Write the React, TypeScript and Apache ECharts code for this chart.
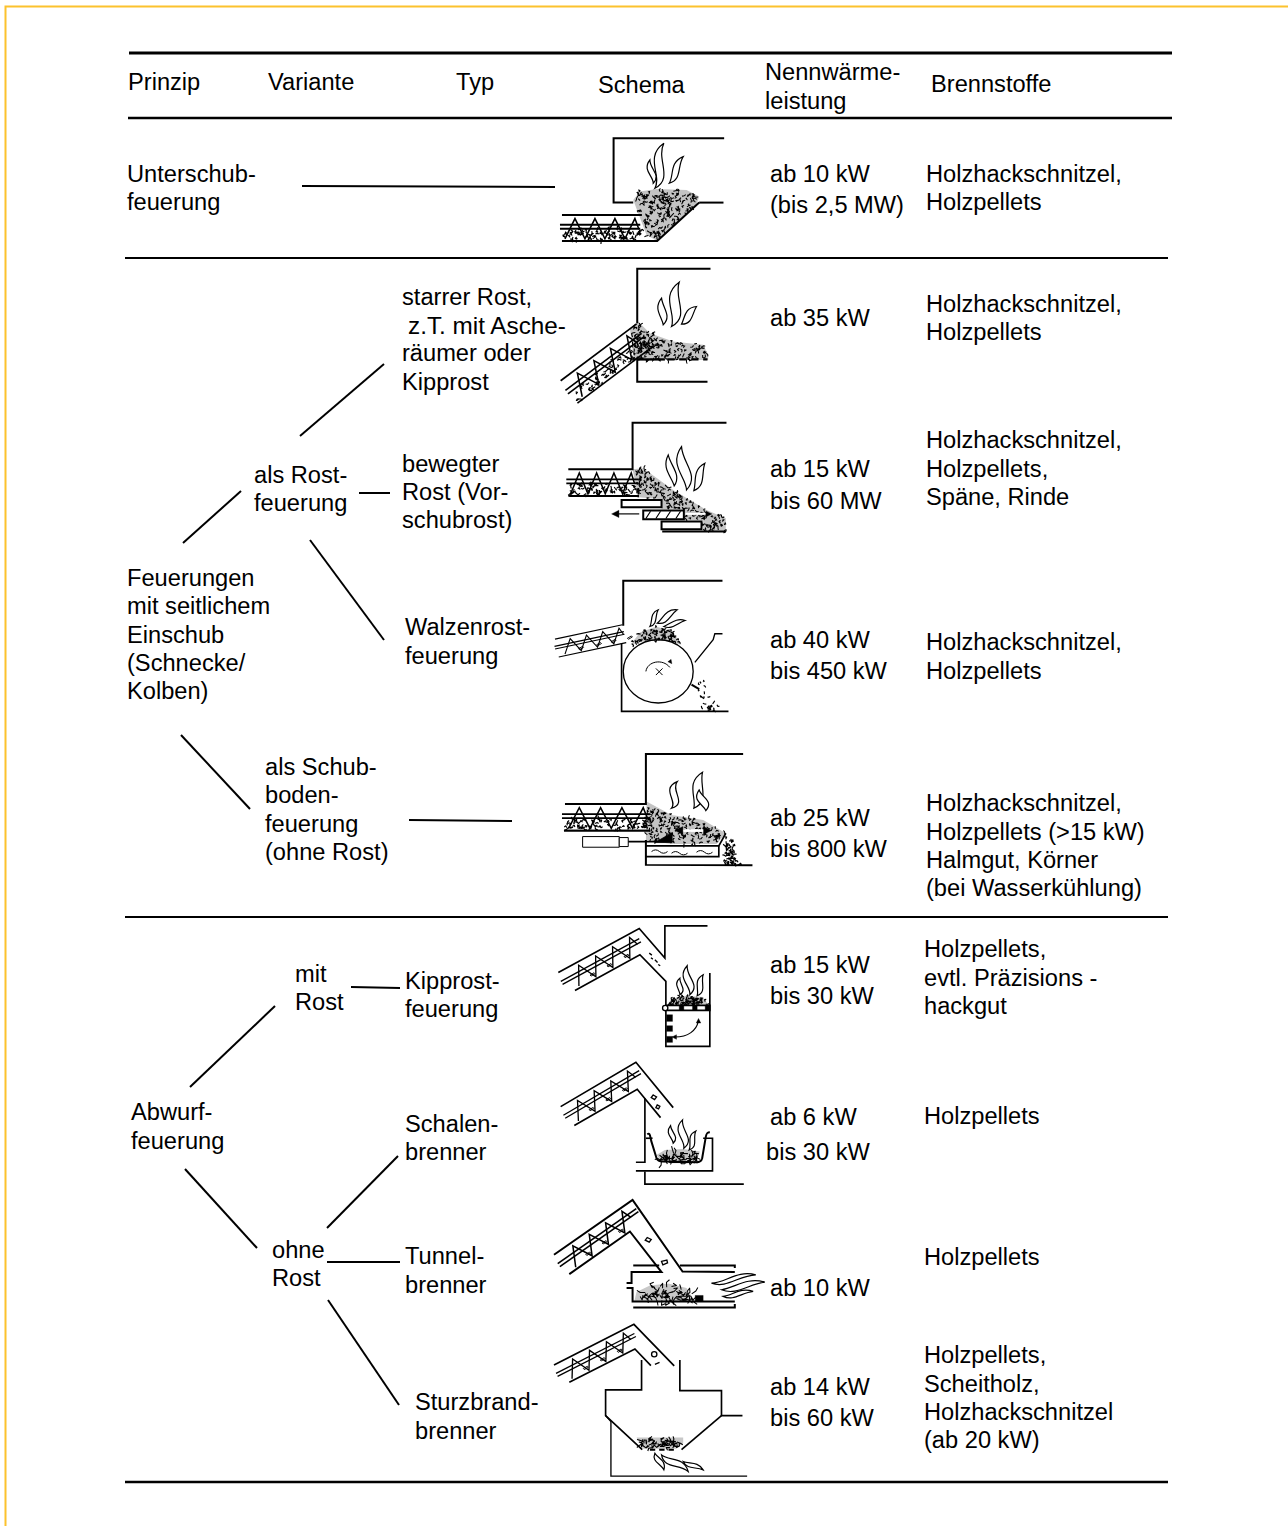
import React, { useEffect, useRef } from "react";
import * as echarts from "echarts";

// ---------- text content ----------
const headers = ["Prinzip", "Variante", "Typ", "Schema", "Nennwärme-", "leistung", "Brennstoffe"];
const prinzip = ["Unterschub-", "feuerung", "Feuerungen", "mit seitlichem", "Einschub", "(Schnecke/", "Kolben)", "Abwurf-", "feuerung"];
const variante = ["als Rost-", "feuerung", "als Schub-", "boden-", "feuerung", "(ohne Rost)", "mit", "Rost", "ohne", "Rost"];
const typ = ["starrer Rost,", "z.T. mit Asche-", "räumer oder", "Kipprost", "bewegter", "Rost (Vor-", "schubrost)", "Walzenrost-", "feuerung", "Kipprost-", "feuerung", "Schalen-", "brenner", "Tunnel-", "brenner", "Sturzbrand-", "brenner"];
const leistung = ["ab 10 kW", "(bis 2,5 MW)", "ab 35 kW", "ab 15 kW", "bis 60 MW", "ab 40 kW", "bis 450 kW", "ab 25 kW", "bis 800 kW", "ab 15 kW", "bis 30 kW", "ab 6 kW", "bis 30 kW", "ab 10 kW", "ab 14 kW", "bis 60 kW"];
const brennstoffe = ["Holzhackschnitzel,", "Holzpellets", "Holzhackschnitzel,", "Holzpellets", "Holzhackschnitzel,", "Holzpellets,", "Späne, Rinde", "Holzhackschnitzel,", "Holzpellets", "Holzhackschnitzel,", "Holzpellets (>15 kW)", "Halmgut, Körner", "(bei Wasserkühlung)", "Holzpellets,", "evtl. Präzisions -", "hackgut", "Holzpellets", "Holzpellets", "Holzpellets,", "Scheitholz,", "Holzhackschnitzel", "(ab 20 kW)"];

// ---------- layout (x, middle y) parallel to the text lists ----------
const headerPos = [[128, 82], [268, 82], [456, 82], [598, 85], [765, 72], [765, 101], [931, 84]];
const prinzipPos = [[127, 174], [127, 202], [127, 578], [127, 606], [127, 635], [127, 663], [127, 691], [131, 1112], [131, 1141]];
const variantePos = [[254, 475], [254, 503], [265, 767], [265, 795], [265, 824], [265, 852], [295, 974], [295, 1002], [272, 1250], [272, 1278]];
const typPos = [[402, 297], [408, 325], [402, 353], [402, 382], [402, 464], [402, 492], [402, 520], [405, 627], [405, 656], [405, 981], [405, 1009], [405, 1124], [405, 1152], [405, 1256], [405, 1285], [415, 1402], [415, 1431]];
const leistungPos = [[770, 174], [770, 205], [770, 318], [770, 469], [770, 501], [770, 640], [770, 671], [770, 818], [770, 849], [770, 965], [770, 996], [770, 1117], [766, 1152], [770, 1288], [770, 1387], [770, 1418]];
const brennstoffePos = [[926, 174], [926, 202], [926, 304], [926, 332], [926, 440], [926, 469], [926, 497], [926, 642], [926, 671], [926, 803], [926, 832], [926, 860], [926, 888], [924, 949], [924, 978], [924, 1006], [924, 1116], [924, 1257], [924, 1355], [924, 1384], [924, 1412], [924, 1440]];

// [x1, y1, x2, y2, width]
const rules = [[129, 53, 1172, 53, 3], [128, 118, 1172, 118, 2.6], [125, 258, 1168, 258, 2], [125, 917, 1168, 917, 2], [125, 1482, 1168, 1482, 2.6]];
const connectors = [[302, 186, 555, 187], [300, 436, 384, 364], [183, 543, 241, 491], [359, 493, 390, 493], [310, 540, 384, 640], [181, 735, 250, 809], [409, 820, 512, 821], [190, 1087, 275, 1006], [351, 987, 400, 988], [185, 1169, 257, 1248], [327, 1228, 398, 1156], [327, 1262, 400, 1262], [328, 1300, 399, 1405]];

// ---------- drawing helpers (all sketch coordinates are at 3x inside a scaled group) ----------
let shapeNo = 0;
function P(d: string, style: any = {}) {
  const name = "sk" + shapeNo++;
  echarts.graphic.registerShape(name, echarts.graphic.extendPath(d, {}));
  return { type: name, silent: true, style: { fill: "none", stroke: "#000", lineWidth: 6, lineJoin: "miter", ...style } };
}
const L = (pts: number[][]) => "M" + pts.map((p) => p.join(" ")).join("L");
const poly = (pts: number[][], style: any = {}) => P(L(pts), style);
const closed = (pts: number[][], style: any = {}) => P(L(pts) + "Z", style);

function inside(x: number, y: number, pts: number[][]) {
  let c = false;
  for (let i = 0, j = pts.length - 1; i < pts.length; j = i++) {
    const [xi, yi] = pts[i], [xj, yj] = pts[j];
    if (yi > y !== yj > y && x < ((xj - xi) * (y - yi)) / (yj - yi) + xi) c = !c;
  }
  return c;
}
// deterministic decorative grain for fuel heaps
function grain(pts: number[][], count0: number, seed: number, size = 7, lw0 = 2.6, color = "#000") {
  const count = Math.round(count0 * 1.5), lw = lw0 + 0.5;
  const xs = pts.map((p) => p[0]), ys = pts.map((p) => p[1]);
  const x0 = Math.min(...xs), x1 = Math.max(...xs), y0 = Math.min(...ys), y1 = Math.max(...ys);
  let s = seed * 7919 + 17;
  const r = () => ((s = (s * 16807) % 2147483647) / 2147483647);
  let d = "";
  let n = 0, guard = 0;
  while (n < count && guard++ < count * 30) {
    const x = x0 + r() * (x1 - x0), y = y0 + r() * (y1 - y0), a = r() * 6.28, b = r() * 6.28;
    if (!inside(x, y, pts)) continue;
    d += `M${x.toFixed(1)} ${y.toFixed(1)}l${(Math.cos(a) * size).toFixed(1)} ${(Math.sin(a) * size).toFixed(1)}l${(Math.cos(b) * size * 0.8).toFixed(1)} ${(Math.sin(b) * size * 0.8).toFixed(1)}`;
    n++;
  }
  return P(d, { lineWidth: lw, stroke: color, lineJoin: "round" });
}
function heap(pts: number[][], count: number, seed: number, size = 7, lw = 2.6) {
  return [closed(pts, { fill: "#c4c4c4", stroke: "none" }), grain(pts, count, seed, size, lw)];
}
function flame(bx: number, by: number, tx: number, ty: number, amp0: number, w0: number, lw = 3.6) {
  const amp = amp0 * 1.35, w = w0 * 1.5;
  const vx = tx - bx, vy = ty - by, l = Math.hypot(vx, vy) || 1, nx = -vy / l, ny = vx / l;
  const pt = (t: number, o: number) => `${(bx + vx * t + nx * o).toFixed(1)} ${(by + vy * t + ny * o).toFixed(1)}`;
  const d = `M${pt(0, 0)}C${pt(0.3, amp + w)} ${pt(0.62, -amp + w)} ${pt(1, 0)}C${pt(0.62, -amp - w)} ${pt(0.3, amp - w)} ${pt(0, 0)}Z`;
  return P(d, { fill: "#fff", lineWidth: lw });
}
function auger(ox: number, oy: number, deg: number, len: number, w: number, start: number, period: number, cfg: any = {}) {
  const a = (deg * Math.PI) / 180, c = Math.cos(a), s = Math.sin(a);
  const R = (u: number, v: number) => [+(ox + u * c - v * s).toFixed(1), +(oy + u * s + v * c).toFixed(1)];
  const lwTube = cfg.tube ?? 5, lwZ = cfg.zig ?? 4.6;
  const out: any[] = [];
  const zig: number[][] = [R(start - period / 2, w * 0.92)];
  for (let i = 0; i < 4; i++) {
    zig.push(R(start + i * period, w * 0.14));
    zig.push(R(start + i * period + period / 2, w * 0.92));
  }
  zig.pop();
  zig.push(R(start + 3 * period + period * 0.2, w * 0.55));
  const lower = [R(cfg.u0 ?? 6, w * 0.56), R(len, w * 0.56), R(len, w * 0.96), R(cfg.u0 ?? 6, w * 0.96)];
  if (cfg.dense) out.push(grain(lower, cfg.dense, cfg.seed ?? 3, 7, 3));
  if (cfg.pellets) {
    cfg.pellets.forEach((t: number) => {
      const p = R(start + period * t, w * 0.73);
      out.push(closed([[p[0] - 6, p[1] + 4], [p[0] + 6, p[1] - 3], [p[0] + 9, p[1]], [p[0] - 3, p[1] + 7]], { lineWidth: 2.8 }));
    });
  }
  if (!cfg.noTop) out.push(poly([R(cfg.t0 ?? 0, 0), R(len, 0)], { lineWidth: lwTube }));
  if (!cfg.noBottom) out.push(poly([R(cfg.b0 ?? 0, w), R(len, w)], { lineWidth: lwTube }));
  out.push(poly([R(-6, w * 0.38), R(cfg.sh ?? len, w * 0.38)], { lineWidth: lwTube }));
  out.push(poly([R(-6, w * 0.53), R(cfg.sh ?? len, w * 0.53)], { lineWidth: lwTube }));
  out.push(poly(zig, { lineWidth: lwZ }));
  return out;
}
function arrowHead(x: number, y: number, dx: number, dy: number, size = 16, fill = "#000") {
  const l = Math.hypot(dx, dy), ux = dx / l, uy = dy / l;
  return closed([[x, y], [x - ux * size - uy * size * 0.5, y - uy * size + ux * size * 0.5], [x - ux * size + uy * size * 0.5, y - uy * size - ux * size * 0.5]], { fill, stroke: fill, lineWidth: 1 });
}
const group = (x: number, y: number, children: any[]) => ({ type: "group", x, y, scaleX: 1 / 3, scaleY: 1 / 3, silent: true, children });

// ---------- schema sketches ----------
const schema1 = [
  ...heap([[280, 225], [300, 200], [350, 192], [440, 195], [478, 215], [470, 238], [352, 348], [320, 330], [295, 265]], 130, 1),
  ...auger(66, 270, 0, 240, 78, 39, 60, { dense: 65, sh: 235, seed: 5, tube: 6 }),
  poly([[553, 40], [221, 40], [221, 233], [280, 233]]),
  poly([[478, 233], [551, 233]]),
  poly([[66, 348], [352, 348], [478, 233]]),
  flame(345, 190, 372, 55, 24, 12), flame(388, 175, 430, 95, 12, 9), flame(340, 175, 330, 105, 12, 8),
];
const schema2 = [
  ...heap([[270, 612], [295, 590], [330, 625], [400, 650], [440, 655], [490, 660], [505, 690], [505, 706], [292, 706], [280, 690]], 105, 2),
  ...auger(62, 768, -36.87, 285, 84, 54, 62, { dense: 50, sh: 280, seed: 11, tube: 5 }),
  poly([[512, 432], [292, 432], [292, 595]]),
  poly([[292, 700], [292, 771], [503, 771]]),
  poly([[292, 704], [375, 704]], { lineWidth: 7 }),
  poly([[382, 704], [503, 704]], { lineWidth: 7, lineDash: [22, 14] }),
  flame(395, 605, 418, 472, 22, 14), flame(370, 600, 365, 520, 10, 10), flame(425, 598, 470, 545, 8, 10),
];
const schema3 = [
  ...heap([[278, 178], [310, 175], [400, 240], [500, 300], [558, 325], [558, 365], [490, 365], [490, 332], [432, 330], [432, 298], [365, 298], [365, 268], [295, 262]], 125, 3),
  ...auger(85, 178, 0, 212, 80, 33, 52, { dense: 50, seed: 7, tube: 5, noTop: true }),
  poly([[560, 38], [278, 38], [278, 178], [85, 178]]),
  poly([[88, 258], [297, 258]]),
  closed([[245, 270], [365, 270], [365, 292], [245, 292]], { fill: "#fff", lineWidth: 6 }),
  closed([[310, 302], [432, 302], [432, 328], [310, 328]], { fill: "#fff", lineWidth: 6 }),
  P("M318 326l14-22M348 326l14-22M378 326l14-22M408 326l14-22", { lineWidth: 3.5 }),
  closed([[365, 335], [485, 335], [485, 358], [365, 358]], { fill: "#fff", lineWidth: 6 }),
  poly([[367, 365], [558, 365]], { lineWidth: 6 }),
  poly([[298, 312], [235, 312]], { lineWidth: 3.5 }), arrowHead(215, 312, -1, 0, 22),
  poly([[437, 312], [500, 312]], { lineWidth: 6, stroke: "#fff" }), arrowHead(516, 312, 1, 0, 18),
  flame(403, 228, 385, 135, 10, 10), flame(440, 240, 425, 110, 18, 14), flame(462, 242, 495, 160, 10, 10),
];
const schema4 = [
  ...heap([[272, 705], [300, 668], [350, 650], [400, 668], [425, 705], [380, 692], [320, 692]], 45, 4, 7, 3),
  ...auger(45, 688, -12, 207, 55, 45, 50, { tube: 3.6, zig: 3.4, pellets: [0.5, 1.6, 2.5, 3.5] }),
  P("M250 648V513H548", { lineWidth: 6 }),
  poly([[245, 700], [245, 905], [566, 905]], { lineWidth: 5 }),
  P("M250 785a105 95 0 1 0 210 0a105 95 0 1 0 -210 0Z", { lineWidth: 4 }),
  P("M318 785c4-30 50-40 72-12", { lineWidth: 3 }), arrowHead(396, 762, 0.6, 0.8, 12),
  P("M348 776l20 20M368 776l-20 20", { lineWidth: 3 }),
  poly([[465, 758], [520, 690], [525, 672], [548, 672]], { lineWidth: 4 }),
  poly([[455, 825], [478, 838]], { lineWidth: 6 }),
  grain([[470, 815], [495, 815], [505, 865], [480, 865]], 7, 6, 5, 3),
  grain([[485, 880], [535, 880], [535, 902], [485, 902]], 9, 8, 6, 3),
  flame(330, 650, 355, 600, 8, 6), flame(352, 640, 412, 600, 8, 8), flame(372, 650, 436, 632, 6, 6),
];
const schema5 = [
  ...heap([[320, 185], [395, 225], [490, 240], [558, 280], [530, 312], [395, 312], [318, 300]], 115, 5),
  ...auger(72, 192, 0, 258, 80, 46, 64, { dense: 60, seed: 13, noTop: true, tube: 5 }),
  poly([[610, 42], [318, 42], [318, 192], [75, 192]]),
  poly([[72, 272], [330, 272]], { lineWidth: 5 }),
  closed([[128, 290], [238, 290], [238, 322], [128, 322]], { fill: "#fff", lineWidth: 3 }),
  closed([[238, 293], [265, 293], [265, 320], [238, 320]], { fill: "#fff", lineWidth: 3 }),
  poly([[265, 305], [395, 305]], { lineWidth: 5 }),
  closed([[345, 308], [397, 278], [397, 308]], { fill: "#000", stroke: "#000", lineWidth: 2 }),
  poly([[318, 300], [318, 375], [638, 376]], { lineWidth: 6 }),
  poly([[318, 318], [537, 318], [558, 280]], { lineWidth: 5 }),
  poly([[318, 350], [537, 350], [537, 318]], { lineWidth: 5 }),
  P("M335 335q12-10 24 0t24 0M395 340q12-10 24 0t24 0M470 337q12-10 24 0t24 0", { lineWidth: 3 }),
  poly([[425, 272], [495, 272]], { lineWidth: 8, stroke: "#fff" }),
  arrowHead(405, 272, -1, 0, 24), arrowHead(515, 272, 1, 0, 24),
  grain([[555, 295], [580, 295], [578, 350], [605, 372], [558, 372]], 40, 9, 7, 3),
  flame(395, 205, 412, 125, 22, 10), flame(462, 205, 488, 97, 16, 14), flame(498, 212, 478, 150, 12, 11),
];
const schema6 = [
  ...heap([[382, 795], [395, 778], [440, 768], [490, 772], [505, 795]], 60, 6, 6, 3),
  ...auger(55, 698, -28.5, 278, 71, 64, 58, { tube: 4, zig: 4, sh: 262, pellets: [0.4, 1.4, 2.4], noTop: true, noBottom: true }),
  poly([[55, 698], [298, 566], [375, 655], [375, 558], [503, 558]], { lineWidth: 5 }),
  poly([[105, 752], [300, 645], [378, 725], [378, 920], [510, 920], [510, 700]], { lineWidth: 5 }),
  closed([[378, 797], [510, 797], [510, 812], [378, 812]], { fill: "#fff", lineWidth: 5 }),
  ...[[418, 432], [458, 472], [496, 510]].map((b) => closed([[b[0], 797], [b[1], 797], [b[1], 812], [b[0], 812]], { fill: "#000", stroke: "#000", lineWidth: 1 })),
  P("M368 805a8 8 0 1 0 16 0a8 8 0 1 0 -16 0Z", { fill: "#fff", lineWidth: 4 }),
  ...[[825, 845], [858, 875], [890, 908]].map((b) => closed([[380, b[0]], [398, b[0]], [398, b[1]], [380, b[1]]], { fill: "#000", stroke: "#000", lineWidth: 1 })),
  P("M405 892c40 0 65-20 70-46", { lineWidth: 3.5 }), arrowHead(476, 836, 0, -1, 14), arrowHead(396, 892, -1, 0, 14),
  P("M328 640l8 6M333 654l6 4M345 660l8 8M355 674l6 4", { lineWidth: 4 }),
  flame(420, 765, 420, 715, 9, 7), flame(450, 765, 442, 678, 16, 10), flame(472, 768, 490, 705, 10, 8),
];
const schema7 = [
  closed([[350, 300], [375, 285], [430, 282], [480, 290], [470, 320], [365, 320]], { fill: "#c4c4c4", stroke: "none" }),
  grain([[352, 296], [476, 296], [468, 320], [365, 320]], 30, 12, 13, 2.6),
  ...auger(62, 155, -30.5, 262, 70, 53, 58, { tube: 4, zig: 4, sh: 258, pellets: [0.4, 1.4, 2.4], noTop: true, noBottom: true }),
  poly([[62, 155], [288, 22], [400, 158]], { lineWidth: 5 }),
  poly([[103, 212], [292, 103], [362, 188]], { lineWidth: 5 }),
  poly([[315, 130], [315, 322], [288, 322]], { lineWidth: 5 }),
  poly([[318, 250], [338, 250]], { lineWidth: 5 }),
  P("M322 238c8-5 8 2 12 20L350 310Q354 320 368 320L470 322Q484 322 487 310L498 245C500 235 502 232 510 232", { lineWidth: 6 }),
  poly([[490, 250], [518, 250], [518, 348], [288, 348]], { lineWidth: 5 }),
  poly([[315, 350], [315, 388], [612, 388]], { lineWidth: 5 }),
  poly([[388, 322], [445, 322]], { lineWidth: 5 }),
  P("M340 120l10 6-6 8-10-6ZM352 150l8 4-4 8-8-4Z", { lineWidth: 4 }),
  flame(400, 265, 392, 212, 9, 7), flame(432, 280, 428, 195, 16, 10), flame(448, 285, 468, 228, 10, 7),
];
const schema8 = [
  closed([[283, 740], [290, 712], [330, 692], [385, 686], [440, 700], [465, 740]], { fill: "#c8c8c8", stroke: "none" }),
  grain([[300, 738], [320, 700], [400, 695], [465, 720], [465, 738]], 36, 14, 15, 2.6),
  ...auger(42, 600, -35, 288, 74, 62, 60, { tube: 5, sh: 282, pellets: [0.4, 1.4, 2.4], noTop: true, noBottom: true }),
  poly([[42, 600], [278, 435], [428, 650], [585, 652]], { lineWidth: 6 }),
  poly([[88, 658], [270, 530], [365, 652], [275, 652], [275, 685], [260, 685]], { lineWidth: 6 }),
  poly([[280, 632], [358, 632]], { lineWidth: 6 }),
  poly([[420, 632], [585, 632], [585, 640]], { lineWidth: 6 }),
  poly([[260, 700], [278, 700], [278, 740], [585, 740]], { lineWidth: 6 }),
  poly([[280, 758], [585, 758], [585, 748]], { lineWidth: 6 }),
  closed([[466, 722], [490, 722], [490, 740], [466, 740]], { fill: "#000", stroke: "#000", lineWidth: 1 }),
  P("M322 548l12 6-6 8-12-6ZM365 620l16-4 2 8-14 6Z", { lineWidth: 4 }),
  flame(515, 685, 648, 660, 12, 6), flame(545, 705, 675, 682, 10, 8), flame(550, 725, 640, 710, 8, 6),
];
const schema9 = [
  closed([[290, 368], [430, 368], [430, 385], [408, 402], [310, 402]], { fill: "#c8c8c8", stroke: "none" }),
  grain([[296, 372], [428, 372], [415, 400], [315, 400]], 30, 15, 11, 2.8),
  ...auger(42, 150, -27, 264, 67, 58, 57, { tube: 4, zig: 4, sh: 258, pellets: [0.4, 1.4, 2.4], noTop: true, noBottom: true }),
  poly([[42, 150], [282, 28], [403, 153]], { lineWidth: 5 }),
  poly([[88, 202], [285, 102], [333, 152]], { lineWidth: 5 }),
  poly([[305, 135], [305, 225], [197, 225], [197, 302], [307, 404]], { lineWidth: 5 }),
  poly([[197, 302], [213, 320], [213, 484], [622, 484]], { lineWidth: 4 }),
  poly([[420, 135], [420, 227], [545, 227], [545, 302], [608, 302]], { lineWidth: 5 }),
  poly([[545, 302], [425, 404]], { lineWidth: 5 }),
  poly([[330, 405], [410, 405]], { lineWidth: 6, lineDash: [16, 12] }),
  P("M335 118a8 8 0 1 0 16 0a8 8 0 1 0 -16 0ZM345 148l14-6", { lineWidth: 4 }),
  flame(345, 415, 372, 465, 8, 7), flame(365, 420, 445, 470, 14, 9), flame(430, 440, 490, 465, 7, 6),
];

const sketches = [
  group(540, 125, [...schema1, ...schema2]),
  group(540, 410, [...schema3, ...schema4]),
  group(540, 740, [...schema5, ...schema6]),
  group(540, 1055, [...schema7, ...schema8]),
  group(540, 1315, schema9),
];

const FONT = '"Liberation Sans", Arial, sans-serif';
function texts(list: string[], pos: number[][]) {
  return list.map((t, i) => ({
    type: "text", x: pos[i][0], y: pos[i][1], silent: true,
    style: { text: t, fill: "#000", font: `${t.startsWith("z.T.") ? 24.3 : 23.65}px ${FONT}`, textAlign: "left", verticalAlign: "middle" },
  }));
}

export default function App() {
  const ref = useRef<HTMLDivElement>(null);
  useEffect(() => {
    if (!ref.current) return;
    const chart = echarts.init(ref.current, undefined, { renderer: "svg" });
    chart.setOption({
      animation: false,
      backgroundColor: "#fff",
      graphic: {
        elements: [
          { type: "polyline", silent: true, shape: { points: [[5.5, 1526], [5.5, 6.5], [1288, 6.5]] }, style: { fill: "none", stroke: "#fcc22d", lineWidth: 2 } },
          ...rules.map((r) => ({ type: "line", silent: true, shape: { x1: r[0], y1: r[1], x2: r[2], y2: r[3] }, style: { stroke: "#000", lineWidth: r[4] } })),
          ...connectors.map((r) => ({ type: "line", silent: true, shape: { x1: r[0], y1: r[1], x2: r[2], y2: r[3] }, style: { stroke: "#000", lineWidth: 2 } })),
          ...sketches,
          ...texts(headers, headerPos),
          ...texts(prinzip, prinzipPos),
          ...texts(variante, variantePos),
          ...texts(typ, typPos),
          ...texts(leistung, leistungPos),
          ...texts(brennstoffe, brennstoffePos),
        ],
      },
    });
    return () => chart.dispose();
  }, []);
  return <div ref={ref} style={{ position: "absolute", left: 0, top: 0, width: 1288, height: 1526 }} />;
}
